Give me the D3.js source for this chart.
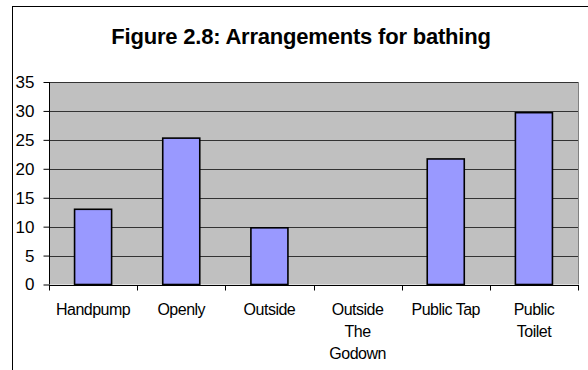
<!DOCTYPE html>
<html>
<head>
<meta charset="utf-8">
<script src="https://cdn.jsdelivr.net/npm/d3@7"></script>
<style>
  html, body { margin: 0; padding: 0; background: #fff; }
  svg { display: block; font-family: "Liberation Sans", Arial, sans-serif; }
</style>
</head>
<body>
<svg id="chart" width="588" height="370"></svg>
<script>
// Bathing arrangements (percent of respondents)
const categories = ["Handpump", "Openly", "Outside", "Outside The Godown", "Public Tap", "Public Toilet"];
const values = [13, 25.3, 9.8, 0, 21.7, 29.7];
const yTicks = [0, 5, 10, 15, 20, 25, 30, 35];
const titleText = "Figure 2.8: Arrangements for bathing";

const svg = d3.select("#chart");

// Outer chart frame (runs off the right and bottom edges)
svg.append("rect")
  .attr("x", 12.5).attr("y", 6.5)
  .attr("width", 600).attr("height", 400)
  .attr("fill", "#fff").attr("stroke", "#000").attr("stroke-width", 1);

svg.append("text")
  .attr("x", 301).attr("y", 44)
  .attr("text-anchor", "middle")
  .attr("font-size", 22).attr("font-weight", "bold")
  .attr("letter-spacing", -0.2)
  .attr("fill", "#000")
  .text(titleText);

const plot = { left: 49, right: 578, top: 82, bottom: 284.5 };

const x = d3.scaleBand().domain(categories).range([plot.left, plot.right]).padding(0);
const y = d3.scaleLinear().domain([0, 35]).range([plot.bottom, plot.top]);

// Plot background
svg.append("rect")
  .attr("x", plot.left).attr("y", plot.top)
  .attr("width", plot.right - plot.left).attr("height", plot.bottom - plot.top)
  .attr("fill", "#c0c0c0");

// Gridlines
svg.append("g").selectAll("line")
  .data(yTicks.filter(d => d > 0))
  .join("line")
  .attr("x1", plot.left).attr("x2", plot.right)
  .attr("y1", d => Math.round(y(d)) + 0.5).attr("y2", d => Math.round(y(d)) + 0.5)
  .attr("stroke", "#333").attr("stroke-width", 1);

// Right edge of plot area
svg.append("line")
  .attr("x1", plot.right + 0.5).attr("x2", plot.right + 0.5)
  .attr("y1", plot.top).attr("y2", plot.bottom)
  .attr("stroke", "#808080");

// Bars
const barW = x.bandwidth() * 0.42;
svg.append("g").selectAll("rect")
  .data(categories.map((c, i) => ({ c, v: values[i] })).filter(d => d.v > 0))
  .join("rect")
  .attr("x", d => x(d.c) + (x.bandwidth() - barW) / 2)
  .attr("y", d => y(d.v))
  .attr("width", barW)
  .attr("height", d => y(0) - y(d.v))
  .attr("fill", "#9999ff")
  .attr("stroke", "#000").attr("stroke-width", 1.6);

// Y axis
const yAxis = d3.axisLeft(y).tickValues(yTicks).tickSize(6).tickPadding(9).tickFormat(d3.format("d"));
const gy = svg.append("g").attr("transform", `translate(${plot.left + 0.5},0)`).call(yAxis);
gy.select(".domain").attr("stroke", "#000").attr("d", `M0,${plot.top}V${plot.bottom}`);
gy.selectAll(".tick line").attr("stroke", "#000");
gy.selectAll(".tick text")
  .attr("font-size", 17).attr("fill", "#000")
  .attr("font-family", "Liberation Sans, Arial, sans-serif");

// X axis: ticks at category boundaries
const gx = svg.append("g").attr("transform", `translate(0,${Math.round(plot.bottom) + 0.5})`);
gx.append("line")
  .attr("x1", plot.left).attr("x2", plot.right + 1)
  .attr("stroke", "#000");
gx.selectAll("line.tk")
  .data(categories.map(c => x(c)).concat([plot.right]))
  .join("line").attr("class", "tk")
  .attr("x1", d => Math.round(d) + 0.5).attr("x2", d => Math.round(d) + 0.5)
  .attr("y1", 0).attr("y2", 5)
  .attr("stroke", "#000");

// Category labels, wrapped onto several lines where needed
const wrapLines = {
  "Outside The Godown": ["Outside", "The", "Godown"],
  "Public Tap": ["Public Tap"],
  "Public Toilet": ["Public", "Toilet"]
};
const labels = svg.append("g").selectAll("text")
  .data(categories)
  .join("text")
  .attr("x", d => x(d) + x.bandwidth() / 2)
  .attr("y", 315)
  .attr("text-anchor", "middle")
  .attr("font-size", 16).attr("letter-spacing", -0.5)
  .attr("fill", "#000");
labels.each(function(d) {
  const lines = wrapLines[d] || [d];
  const t = d3.select(this);
  lines.forEach((ln, i) => {
    t.append("tspan")
      .attr("x", x(d) + x.bandwidth() / 2)
      .attr("dy", i === 0 ? 0 : 22)
      .text(ln);
  });
});
</script>
</body>
</html>
